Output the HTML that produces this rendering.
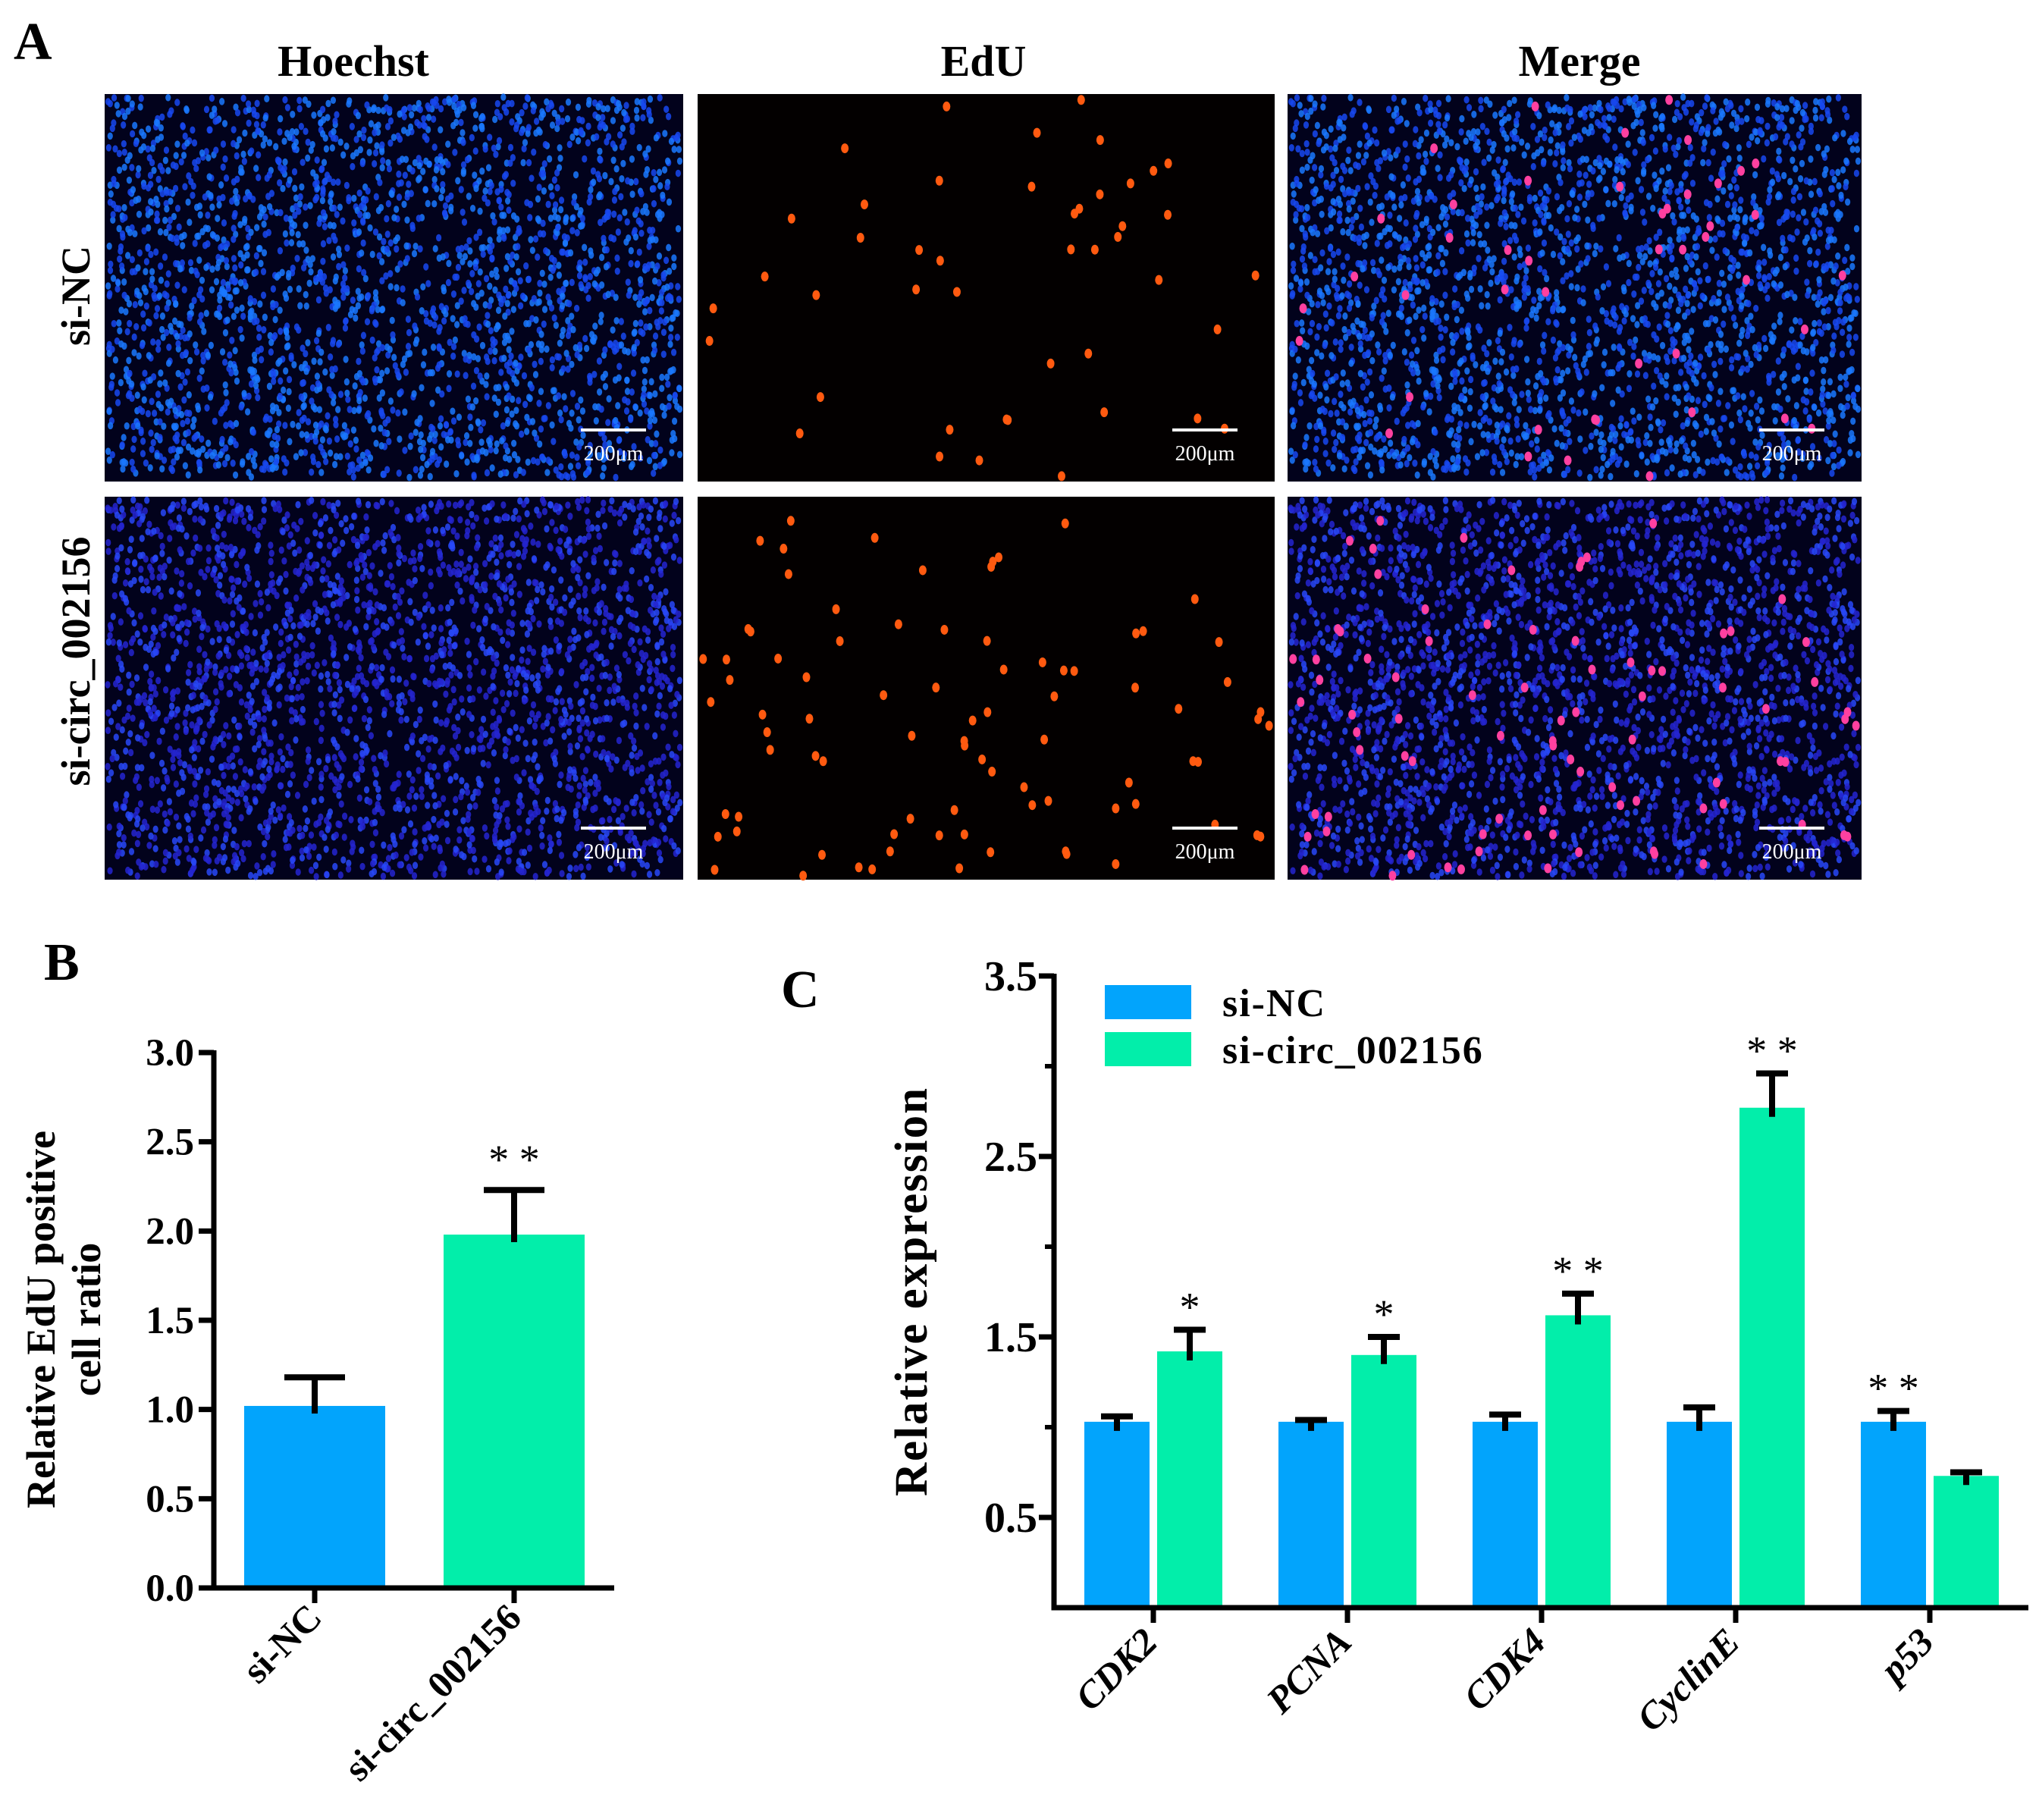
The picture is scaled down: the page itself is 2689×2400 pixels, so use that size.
<!DOCTYPE html>
<html><head><meta charset="utf-8"><style>
body{margin:0;background:#fff;}
svg{display:block;}
text{font-family:"Liberation Serif",serif;}
</style></head><body>
<svg id="fig" width="2689" height="2400" viewBox="0 0 2689 2400" xmlns="http://www.w3.org/2000/svg">
<rect width="2689" height="2400" fill="#fff"/>
<g id="panelA">
<text x="18" y="78" font-size="70" font-weight="bold">A</text>
<text x="466" y="100" font-size="58" font-weight="bold" text-anchor="middle">Hoechst</text>
<text x="1297" y="100" font-size="58" font-weight="bold" text-anchor="middle">EdU</text>
<text x="2083" y="100" font-size="58" font-weight="bold" text-anchor="middle">Merge</text>
<text transform="translate(118,390) rotate(-90)" font-size="54" font-weight="bold" text-anchor="middle">si-NC</text>
<text transform="translate(118,872) rotate(-90)" font-size="54" font-weight="bold" text-anchor="middle">si-circ_002156</text>
<g id="imgs"></g>
</g>

<g id="panelB">
<text x="58" y="1292" font-size="70" font-weight="bold">B</text>
<g id="bChart"></g>
</g>
<g id="panelC">
<text x="1030" y="1328" font-size="70" font-weight="bold">C</text>
<g id="cChart"></g>
</g>
</svg>
<script>
const NS="http://www.w3.org/2000/svg";
function mk(tag,attrs,parent){const e=document.createElementNS(NS,tag);for(const k in attrs)e.setAttribute(k,attrs[k]);parent.appendChild(e);return e;}

// ---------- Panel A microscopy (decorative texture, seeded) ----------
let seed=12345;function rnd(){seed=(seed*1103515245+12345)%2147483648;return seed/2147483648;}
const imgs=document.getElementById('imgs');
const cols=[[138,901],[920,1681],[1698,2455]];
const rows=[[124,635],[655,1160]];
const colNames=['hoechst','edu','merge'];
rows.forEach((r,ri)=>{
  const edu=[];const nEdu=ri===0?45:85;
  for(let i=0;i<nEdu;i++)edu.push([rnd(),rnd()]);
  const blue=[];const nB=2600;
  for(let i=0;i<nB;i++)blue.push([rnd(),rnd(),rnd()]);
  cols.forEach((c,ci)=>{
    const w=c[1]-c[0],h=r[1]-r[0];
    const g=mk('g',{},imgs);
    
    
    mk('rect',{x:c[0],y:r[0],width:w,height:h,fill:ci===1?'#030000':'#02021c'},g);
    if(ci!==1){
      blue.forEach(p=>{const col=ri===0?(p[2]>0.5?'#1a78ff':'#1848f0'):(p[2]>0.6?'#2848f8':'#2424d0');
        mk('ellipse',{cx:c[0]+4+p[0]*(w-8),cy:r[0]+4+p[1]*(h-8),rx:3.6,ry:4.8,fill:col,opacity:0.85},g);});
    }
    if(ci!==0){
      edu.forEach(p=>{mk('ellipse',{cx:c[0]+5+p[0]*(w-10),cy:r[0]+5+p[1]*(h-10),rx:5,ry:6.5,fill:ci===1?'#ff5a10':'#ff40a0'},g);});
    }
    const bx=c[1]-135;const by=r[1]-70;
    mk('rect',{x:bx,y:by,width:86,height:4,fill:'#fff'},g);
    const t=mk('text',{x:bx+43,y:by+42,'font-size':28,fill:'#fff','text-anchor':'middle'},g);t.textContent='200μm';
  });
});

// ---------- Panel B ----------
const bCategories=['si-NC','si-circ_002156'];
const bValues=[1.02,1.98];
const bErrors=[0.16,0.25];
const bTicks=['0.0','0.5','1.0','1.5','2.0','2.5','3.0'];
const bSig=['','**'];
(function(){
  const g=document.getElementById('bChart');
  const x0=282,y0=2094,yTop=1388,xEnd=810;
  const y=v=>y0-v/3.0*(y0-yTop);
  const cx=i=>415+i*263;
  const colors=['#02a4fc','#02eeaa'];
  bValues.forEach((v,i)=>{
    const r=mk('rect',{x:cx(i)-93,y:y(v),width:186,height:y0-y(v),fill:colors[i]},g);
    
    
    const e=mk('path',{d:`M${cx(i)} ${y(v)+10}V${y(v+bErrors[i])}M${cx(i)-40} ${y(v+bErrors[i])}H${cx(i)+40}`,stroke:'#000','stroke-width':8,fill:'none'},g);
    
    
    if(bSig[i]){const s=mk('text',{x:cx(i),y:y(v+bErrors[i])-22,'font-size':54,'text-anchor':'middle'},g);s.textContent='* *';
      
      }
    mk('line',{x1:cx(i),y1:y0,x2:cx(i),y2:y0+20,stroke:'#000','stroke-width':7},g);
    const t=mk('text',{transform:`translate(${cx(i)+12},${y0+42}) rotate(-45)`,'font-size':50,'font-weight':'bold','text-anchor':'end'},g);
    t.textContent=bCategories[i];
    
    
  });
  const ax=mk('path',{d:`M${x0} ${yTop-3}V${y0}H${xEnd}`,stroke:'#000','stroke-width':7,fill:'none'},g);
  
  
  bTicks.forEach(tk=>{const v=parseFloat(tk);
    mk('line',{x1:x0-20,y1:y(v),x2:x0,y2:y(v),stroke:'#000','stroke-width':7},g);
    const t=mk('text',{x:x0-26,y:y(v)+17,'font-size':51,'font-weight':'bold','text-anchor':'end'},g);t.textContent=tk;
    
    });
  const l1=mk('text',{transform:'translate(72,1740) rotate(-90)','font-size':54,'font-weight':'bold','text-anchor':'middle'},g);l1.textContent='Relative EdU positive';
  
  
  const l2=mk('text',{transform:'translate(132,1740) rotate(-90)','font-size':54,'font-weight':'bold','text-anchor':'middle'},g);l2.textContent='cell ratio';
  
  
})();

// ---------- Panel C ----------
const cCategories=['CDK2','PCNA','CDK4','CyclinE','p53'];
const cNC=[1.03,1.03,1.03,1.03,1.03];
const cNCerr=[0.03,0.01,0.04,0.08,0.06];
const cSi=[1.42,1.40,1.62,2.77,0.73];
const cSiErr=[0.12,0.10,0.12,0.19,0.02];
const cSigNC=['','','','','**'];
const cSigSi=['*','*','**','**',''];
const cTicks=['0.5','1.5','2.5','3.5'];
const cMinor=[1.0,2.0,3.0];
(function(){
  const g=document.getElementById('cChart');
  const x0=1390,y0=2120,yTop=1287,xEnd=2675;
  const y=v=>y0-v/3.5*(y0-yTop);
  const gc=i=>1521+i*256;
  const bw=86;
  function bar(xc,v,err,col,name,sig){
    const r=mk('rect',{x:xc-bw/2,y:y(v),width:bw,height:y0-y(v),fill:col},g);
    
    
    const e=mk('path',{d:`M${xc} ${y(v)+12}V${y(v+err)}M${xc-21} ${y(v+err)}H${xc+21}`,stroke:'#000','stroke-width':8,fill:'none'},g);
    
    
    if(sig){const s=mk('text',{x:xc,y:y(v+err)-12,'font-size':54,'text-anchor':'middle'},g);s.textContent=sig.split('').join(' ');
      
      }
  }
  cCategories.forEach((c,i)=>{
    bar(gc(i)-48,cNC[i],cNCerr[i],'#02a4fc',c+'-si-nc',cSigNC[i]);
    bar(gc(i)+48,cSi[i],cSiErr[i],'#02eeaa',c+'-si-circ',cSigSi[i]);
    mk('line',{x1:gc(i),y1:y0,x2:gc(i),y2:y0+20,stroke:'#000','stroke-width':7},g);
    const t=mk('text',{transform:`translate(${gc(i)+8},${y0+48}) rotate(-45)`,'font-size':50,'font-weight':'bold','font-style':'italic','text-anchor':'end'},g);
    t.textContent=c;
    
    
  });
  const ax=mk('path',{d:`M${x0} ${yTop-3}V${y0}H${xEnd}`,stroke:'#000','stroke-width':7,fill:'none'},g);
  
  
  cTicks.forEach(tk=>{const v=parseFloat(tk);
    mk('line',{x1:x0-20,y1:y(v),x2:x0,y2:y(v),stroke:'#000','stroke-width':7},g);
    const t=mk('text',{x:x0-22,y:y(v)+19,'font-size':56,'font-weight':'bold','text-anchor':'end'},g);t.textContent=tk;
    
    });
  cMinor.forEach(v=>{mk('line',{x1:x0-12,y1:y(v),x2:x0,y2:y(v),stroke:'#000','stroke-width':6},g);});
  const yl=mk('text',{transform:'translate(1222,1703) rotate(-90)','font-size':61,'font-weight':'bold','text-anchor':'middle','letter-spacing':'2'},g);yl.textContent='Relative expression';
  
  
  const leg=[['si-NC','#02a4fc'],['si-circ_002156','#02eeaa']];
  leg.forEach((l,i)=>{
    const s=mk('rect',{x:1457,y:1299+i*62,width:114,height:45,fill:l[1]},g);
    
    
    const t=mk('text',{x:1612,y:1340+i*62,'font-size':52,'font-weight':'bold','letter-spacing':'2'},g);t.textContent=l[0];
    
    
  });
})();
</script>
</body></html>
